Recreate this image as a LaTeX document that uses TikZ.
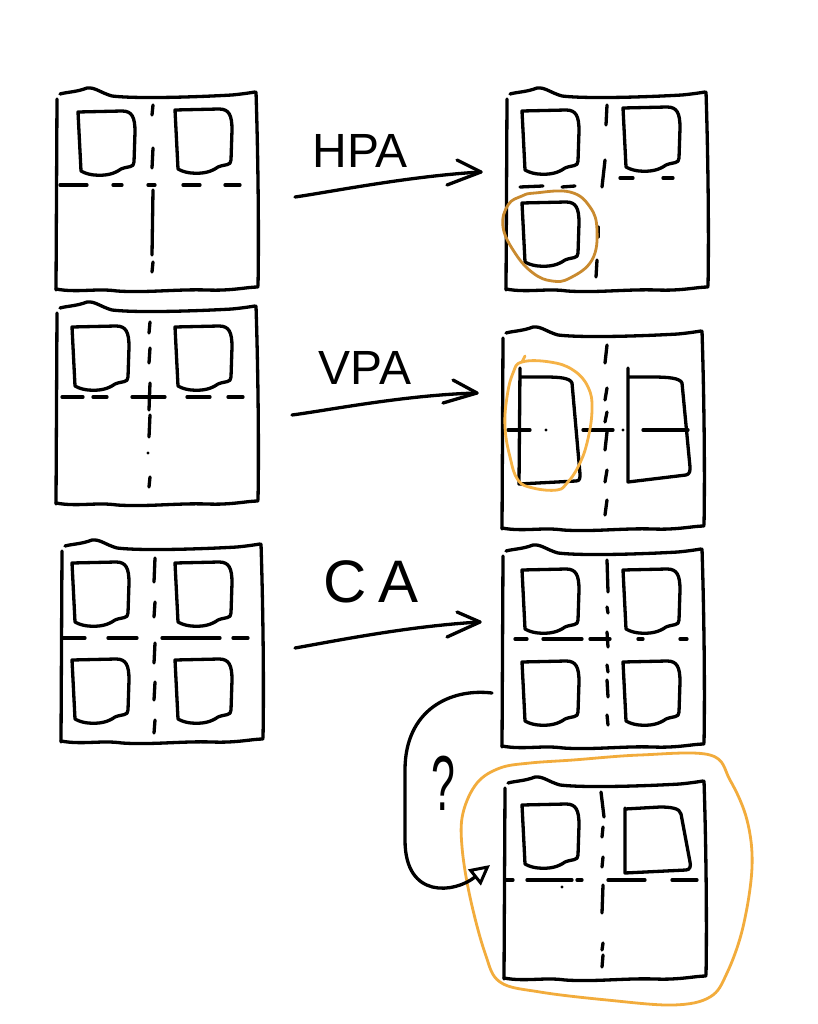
\documentclass[tikz,border=0pt]{standalone}
\usepackage{fontspec}
\newfontfamily\hand{Liberation Sans}
\usetikzlibrary{arrows.meta}
\definecolor{hpaor}{RGB}{201,138,47}
\definecolor{vpaor}{RGB}{245,178,70}
\definecolor{caor}{RGB}{242,172,60}
\tikzset{
  ink/.style={black, line width=3.3pt, line cap=round, line join=round},
  orline/.style={line width=2.8pt, line cap=round, line join=round},
  lbl/.style={font=\hand\fontsize{48}{48}\selectfont, inner sep=0pt},
  hframe/.pic={
    \draw[ink] (3,1) .. controls (10,-1) and (20,-1) .. (30,-5)
      .. controls (38,-6) and (44,0) .. (55,3)
      .. controls (80,6) and (140,4) .. (175,2)
      .. controls (185,1) and (192,0) .. (198,-1);
    \draw[ink] (0,6) -- (-1,197);
    \draw[ink] (199,-1) .. controls (201,60) and (202,140) .. (201,193);
    \draw[ink] (-1,196) .. controls (20,200) and (40,195) .. (60,198)
      .. controls (90,200) and (120,196) .. (150,197)
      .. controls (175,198) and (190,194) .. (201,194);
  },
  dsq/.pic={
    \draw[ink] (0,0) -- (44,-1) .. controls (54,-1) and (57,5) .. (57,20)
      -- (56,50) .. controls (56,56) and (50,54) .. (43,57)
      .. controls (36,62) and (28,64) .. (16,63)
      .. controls (8,62) and (5,60) .. (3,59) -- cycle;
  }
}
\begin{document}
\begin{tikzpicture}[x=1pt,y=-1pt]
\useasboundingbox[fill=white] (0,0) rectangle (818,1024);

% ---------- frames ----------
\pic at (57,93) {hframe};
\pic at (57,307) {hframe};
\pic at (62,545) {hframe};
\pic at (507,93) {hframe};
\pic at (503,332) {hframe};
\pic at (503,550) {hframe};
\pic at (505,782) {hframe};

% ---------- D boxes ----------
\pic at (78,112) {dsq};
\pic at (175,110) {dsq};
\pic at (72,327) {dsq};
\pic at (175,327) {dsq};
\pic at (72,563) {dsq};
\pic at (175,563) {dsq};
\pic at (72,660) {dsq};
\pic at (175,660) {dsq};
\pic at (522,111) {dsq};
\pic at (623,108) {dsq};
\pic at (522,203) {dsq};
\pic at (522,570) {dsq};
\pic at (623,570) {dsq};
\pic at (522,662) {dsq};
\pic at (623,662) {dsq};
\pic at (522,805) {dsq};
% tall boxes (VPA result)
\draw[ink] (520,368) -- (519,484) -- (576,481) .. controls (580,481) and (580,478) .. (580,474)
  -- (572,383) .. controls (570,378) and (560,377) .. (545,377) -- (521,377);
\draw[ink] (628,368) -- (628,482) -- (686,475) .. controls (690,474) and (690,471) .. (690,467)
  -- (682,383) .. controls (680,378) and (668,377) .. (652,377) -- (629,377);
% trapezoid box (final)
\draw[ink] (625,808) -- (625,873) -- (686,870) .. controls (690,870) and (691,866) .. (690,862)
  -- (681,814) .. controls (680,808) and (670,807) .. (660,807) -- (625,809);

% ---------- dashed split lines ----------
% frame 1
\foreach \a/\b in {60/87,113/122,148/155,183/200,225/240} \draw[ink] (\a,185) -- (\b,185);
\foreach \a/\b in {105/115,148/168,190/255,262/272} \draw[ink] (153,\a) -- (152,\b);
% frame 2
\foreach \a/\b in {62/83,93/107,132/165,187/210,228/243} \draw[ink] (\a,397) -- (\b,397);
\foreach \a/\b in {322/333,348/363,383/410,415/437,477/487} \draw[ink] (150,\a) -- (149,\b);
\fill (148,453) circle (1.7pt);
% frame 3
\foreach \a/\b in {63/85,108/137,162/220,233/248} \draw[ink] (\a,638) -- (\b,638);
\foreach \a/\b in {558/582,602/617,643/663,682/700,720/733} \draw[ink] (155,\a) -- (154,\b);
% frame 4
\foreach \a/\b in {520/543,562/575} \draw[ink] (\a,187) -- (\b,186);
\foreach \a/\b in {620/633,663/673} \draw[ink] (\a,178) -- (\b,178);
\draw[ink] (607,105) -- (606,125);
\draw[ink] (605,160) -- (602,187);
\draw[ink] (598,227) -- (598,237);
\draw[ink] (597,260) -- (596,277);
% frame 5
\foreach \a/\b in {508/530,583/613,643/688} \draw[ink] (\a,430) -- (\b,430);
\fill (546,430) circle (1.7pt);
\fill (623,430) circle (1.7pt);
\foreach \a/\b in {345/363,388/400,412/422,432/450,470/482,500/515} \draw[ink] (607,\a) -- (605,\b);
% frame 6
\foreach \a/\b in {515/527,543/582,590/610,638/643,680/687} \draw[ink] (\a,639) -- (\b,639);
\foreach \a/\b in {560/592,607/613,632/647,665/672,680/697,715/725} \draw[ink] (607,\a) -- (608,\b);
% frame 7
\foreach \a/\b in {505/513,527/572,577/582,608/645,672/697} \draw[ink] (\a,880) -- (\b,880);
\fill (562,887) circle (1.6pt);
\draw[ink] (601,792) -- (604,817);
\foreach \a/\b in {827/837,857/867,885/913,943/950,955/967} \draw[ink] (603,\a) -- (602,\b);

% ---------- orange highlights ----------
\draw[orline, hpaor] plot[smooth cycle, tension=0.7] coordinates {
  (535,193) (570,192) (590,207) (597,230) (592,260) (570,278) (552,281)
  (533,273) (515,253) (503,227) (508,205) (522,196)};
\draw[orline, vpaor] plot[smooth cycle, tension=0.7] coordinates {
  (522,362) (550,362) (573,370) (588,387) (592,410) (587,443) (578,467)
  (567,483) (557,490) (533,488) (518,480) (510,457) (505,427) (507,397) (513,373)};
\draw[orline, vpaor] (522,362) -- (525,356);
\draw[orline, caor] plot[smooth cycle, tension=0.6] coordinates {
  (500,768) (530,763) (573,760) (640,755) (710,755) (730,780) (747,820)
  (752,867) (743,927) (727,973) (710,997) (673,1005) (607,1000) (540,992)
  (500,982) (485,953) (470,897) (462,847) (463,813) (477,783)};

% ---------- transition arrows ----------
\coordinate (a1s) at (295,197);
\coordinate (a1e) at (481,172);
\coordinate (a2s) at (292,415);
\coordinate (a2e) at (477,393);
\coordinate (a3s) at (295,648);
\coordinate (a3e) at (480,622);
\draw[ink] (a1s) .. controls (330,192) and (410,176) .. (a1e);
\draw[ink] ([shift={(-24,-12)}]a1e) -- (a1e) -- ([shift={(-34,13)}]a1e);
\draw[ink] (a2s) .. controls (330,410) and (405,395) .. (a2e);
\draw[ink] ([shift={(-24,-13)}]a2e) -- (a2e) -- ([shift={(-34,10)}]a2e);
\draw[ink] (a3s) .. controls (340,640) and (410,626) .. (a3e);
\draw[ink] ([shift={(-23,-10)}]a3e) -- (a3e) -- ([shift={(-33,15)}]a3e);

\node[lbl] (lhpa) at (360,151) {HPA};
\node[lbl] (lvpa) at (365,368) {VPA};
\node[lbl, font=\hand\fontsize{60}{60}\selectfont] (lca) at (371,582) {C\hspace{12pt}A};

% ---------- question loop ----------
\coordinate (qs) at (492,693);
\coordinate (qe) at (490,865);
\draw[ink, -{Triangle[open, length=20pt, width=20pt, line width=3pt]}]
  (qs) .. controls (450,688) and (405,710) .. (405,770)
  -- (405,840) .. controls (405,900) and (455,893) .. (qe);
\node[font=\hand\fontsize{78}{78}\selectfont, inner sep=0pt, xscale=0.55] (lq) at (443,783) {?};
\end{tikzpicture}
\end{document}
